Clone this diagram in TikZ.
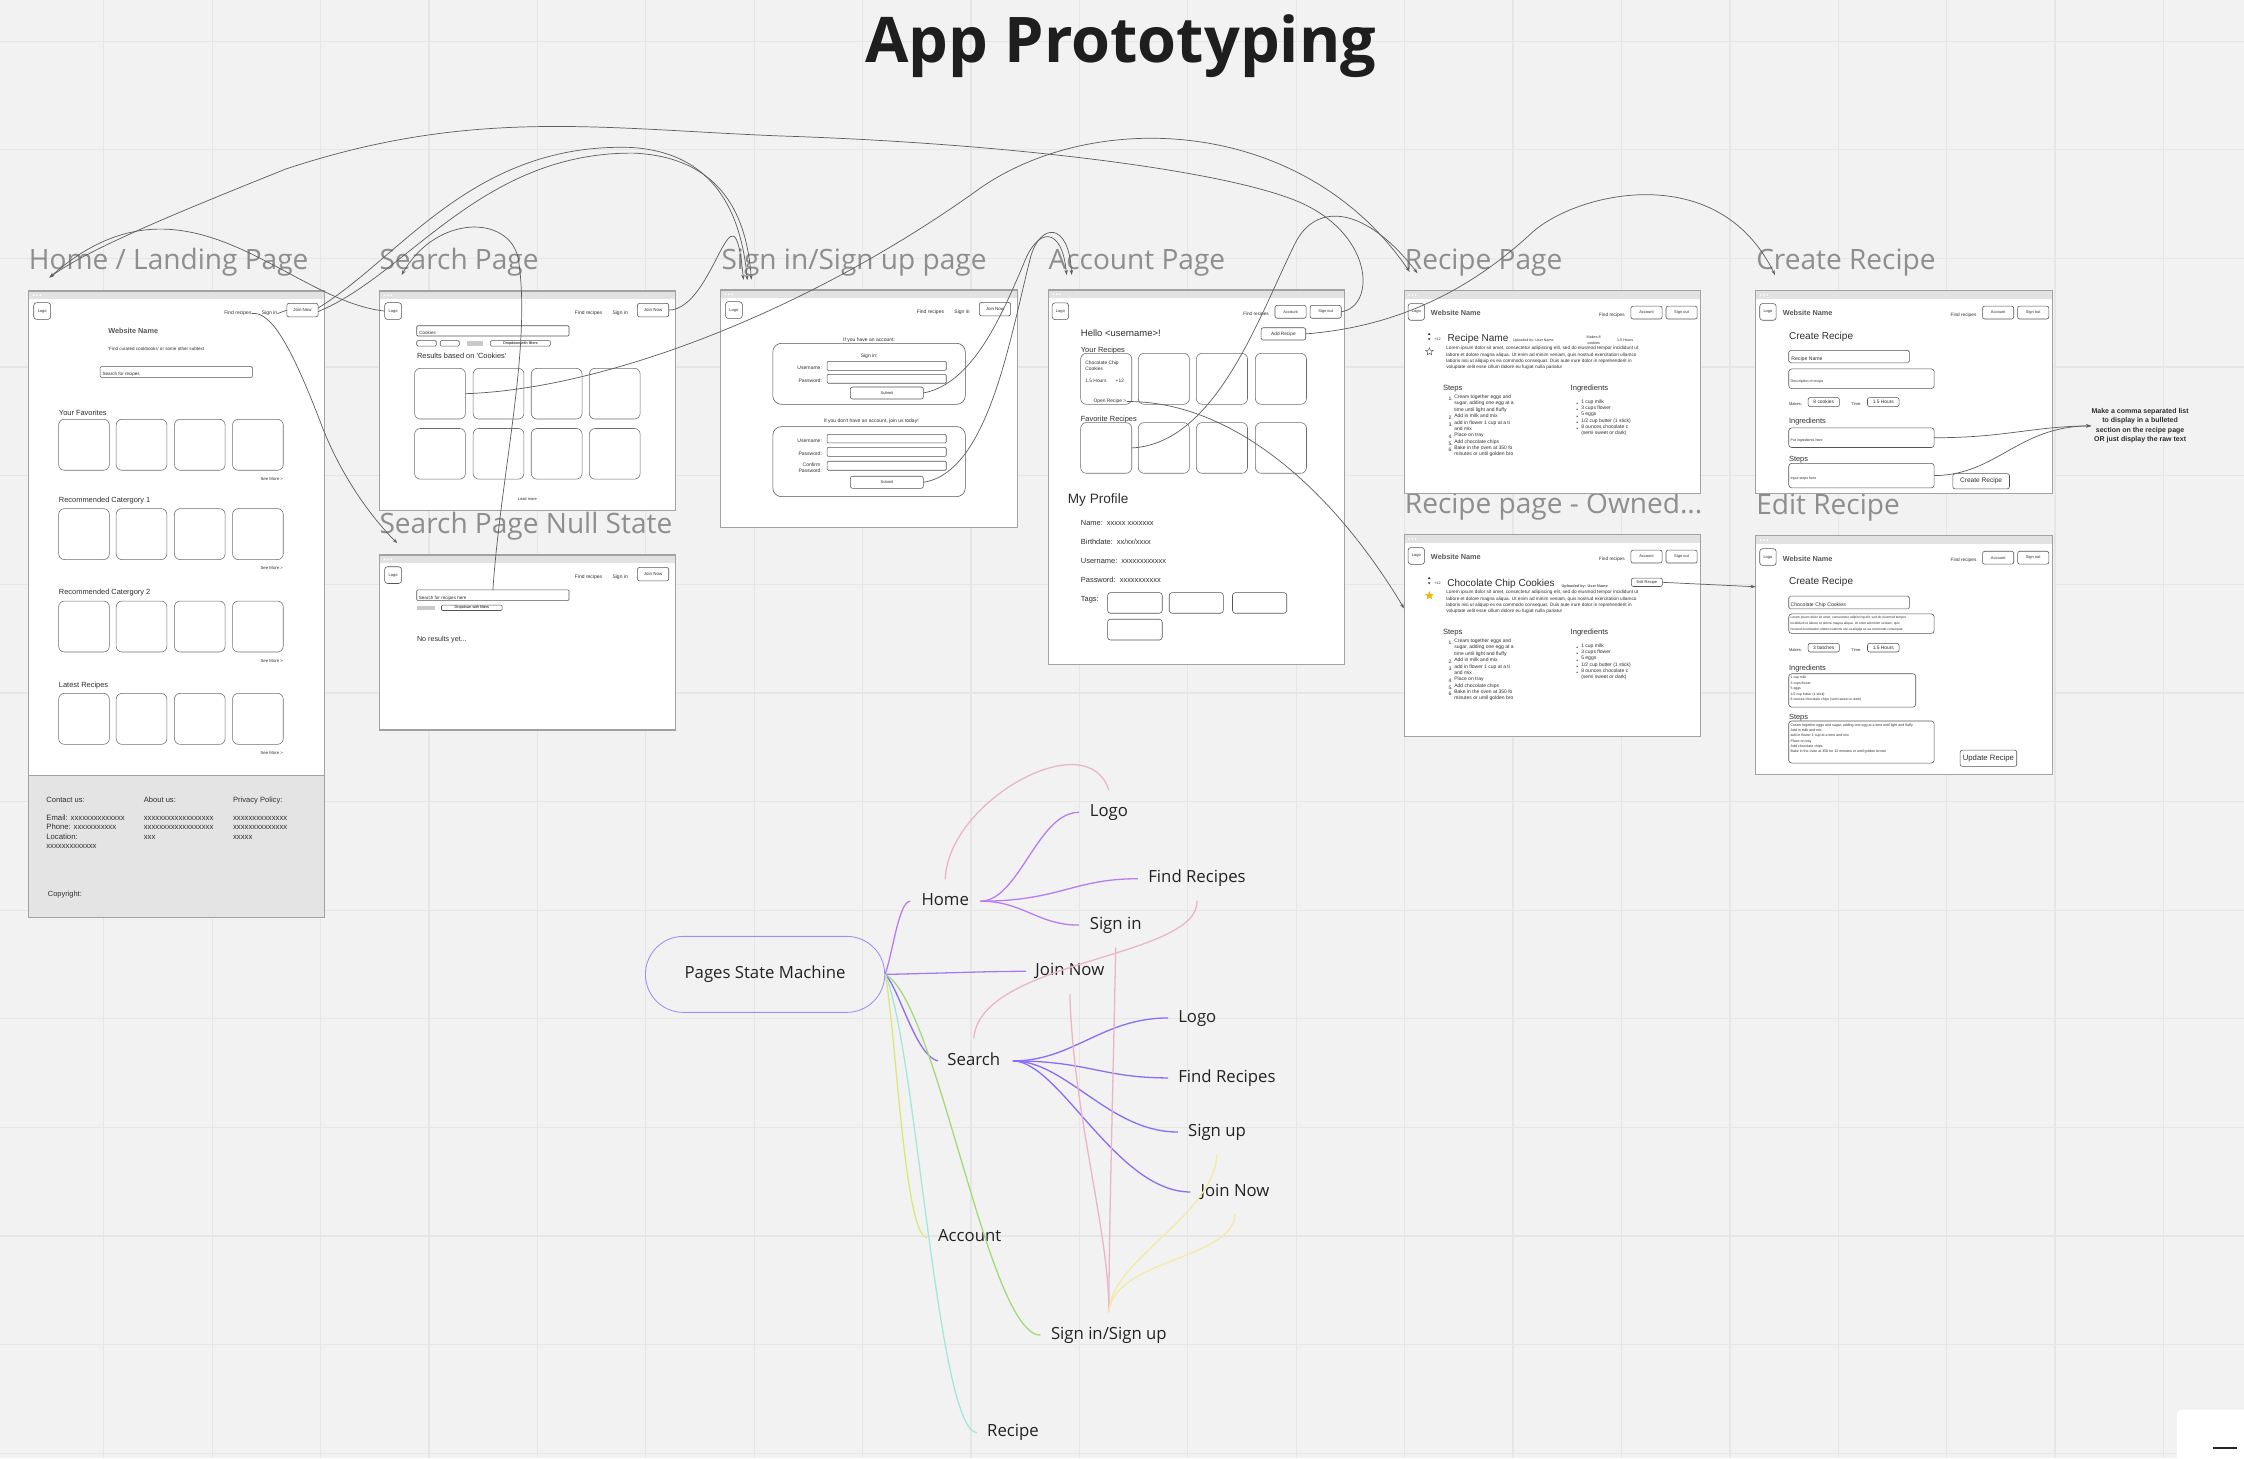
\documentclass[tikz,border=0pt]{standalone}
\usepackage{fontspec}
\setmainfont{Liberation Sans}
\newfontfamily\osans{Open Sans}
\newfontfamily\wf{Liberation Sans}
\usetikzlibrary{shapes.geometric,arrows.meta,calc}
\definecolor{bgc}{HTML}{F2F2F2}
\definecolor{gridc}{HTML}{E6E6E6}
\definecolor{frameb}{HTML}{A2A2A2}
\definecolor{barc}{HTML}{E2E2E2}
\definecolor{lblc}{HTML}{8E8E8E}
\definecolor{wtext}{HTML}{2E2E2E}
\definecolor{wline}{HTML}{555555}
\definecolor{connc}{HTML}{5E5E5E}
\definecolor{footc}{HTML}{E4E4E4}
\definecolor{mmtext}{HTML}{222222}
\definecolor{mmroot}{HTML}{A58CF2}
\definecolor{mmhome}{HTML}{B97CF0}
\definecolor{mmjoin}{HTML}{A57CF2}
\definecolor{mmsearch}{HTML}{8B6CF3}
\definecolor{mmacc}{HTML}{DCE77A}
\definecolor{mmsign}{HTML}{A3DA78}
\definecolor{mmrec}{HTML}{A3E6DA}
\definecolor{mmpink}{HTML}{E8B6C6}
\definecolor{mmyel}{HTML}{F2EAA6}
\definecolor{starc}{HTML}{F4B400}
\definecolor{fillgray}{HTML}{C9C9C9}
\definecolor{titlec}{HTML}{1E1E1E}
\tikzset{
  wt/.style={font=\wf\fontsize{#1}{#1}\selectfont, inner sep=0pt, text=wtext, anchor=mid west},
  wtc/.style={wt=#1, anchor=mid},
  wtr/.style={wt=#1, anchor=mid east},
  wtb/.style={font=\wf\bfseries\fontsize{#1}{#1}\selectfont, inner sep=0pt, text=wtext!80, anchor=mid west},
  wml/.style 2 args={font=\wf\fontsize{#1}{#2}\selectfont, inner sep=0pt, text=wtext, anchor=north west, align=left},
  cardbox/.style={draw=wline!85, fill=white, line width=0.4pt, rounded corners=4pt},
  btnbox/.style={draw=wline, fill=white, line width=0.4pt, rounded corners=1.5pt, font=\wf\fontsize{2.8}{2.8}\selectfont, text=wtext},
  inpbox/.style={draw=wline, fill=white, line width=0.4pt, rounded corners=0.8pt},
  areabox/.style={draw=wline, fill=white, line width=0.4pt, rounded corners=2pt},
  cn/.style={draw=connc, line width=0.5pt},
  ar/.style={-{Stealth[length=3.6pt,width=2.4pt]}},
  pagelbl/.style={font=\osans\fontsize{19.6}{22}\selectfont, text=lblc, inner sep=0pt, anchor=base west},
  mm/.style={font=\osans\fontsize{11.7}{14}\selectfont, text=mmtext, inner sep=0pt, text height=8.4pt, text depth=2.6pt, anchor=west},
  mmedge/.style={line width=0.9pt},
}
% box node from corners: name, style, x1, y1, x2, y2, text
\newcommand\wfbox[7]{%
  \pgfmathsetmacro\wfbw{(#5)-(#3)}\pgfmathsetmacro\wfbh{(#6)-(#4)}%
  \node[#2, anchor=north west, minimum width=\wfbw pt, minimum height=\wfbh pt, inner sep=0pt, outer sep=0pt] (#1) at ({#3},{#4}) {#7};}
% browser frame: name, x1, y1, x2, y2
\newcommand\wfframe[5]{%
  \wfbox{#1}{draw=frameb, fill=white, line width=0.8pt}{#2}{#3}{#4}{#5}{}
  \fill[barc] ({#2+0.4},{#3+0.4}) rectangle ({#4-0.4},{#3+5.6});
  \foreach \dd in {0,1,2} \fill[white] ({#2+3.5+2.3*\dd},{#3+3}) circle (0.65pt);
}
\newcommand\navA[4]{% prefix, L, T, R
  \wfbox{#1-logo}{btnbox, rounded corners=2pt}{#2+3.6}{#3+8.2}{#2+15.4}{#3+19.9}{Logo}
  \node[wt=3.5] (#1-find) at ({#4-70.5},{#3+14.1}) {Find recipes};
  \node[wt=3.5] (#1-sign) at ({#4-44.2},{#3+14.1}) {Sign in};
  \wfbox{#1-join}{btnbox, font=\wf\fontsize{3.1}{3.1}\selectfont}{#4-26.6}{#3+8.7}{#4-4.7}{#3+18.1}{Join Now}
}
\newcommand\navB[4]{% prefix, L, T, R
  \wfbox{#1-logo}{btnbox, rounded corners=2pt}{#2+2.8}{#3+9}{#2+14.3}{#3+20.7}{Logo}
  \node[wt=3.3] (#1-find) at ({#4-71.3},{#3+15.2}) {Find recipes};
  \wfbox{#1-account}{btnbox}{#4-48.8}{#3+10.8}{#4-27}{#3+19.8}{Account}
  \wfbox{#1-signout}{btnbox}{#4-24.3}{#3+10.8}{#4-2.5}{#3+19.8}{Sign out}
}
\newcommand\recipeBody[2]{% prefix, dy
  \node[wml={3.3}{4.35}] (#1-lorem) at (1010.4,{241.9+#2}) {Lorem ipsum dolor sit amet, consectetur adipiscing elit, sed do eiusmod tempor incididunt ut\\labore et dolore magna aliqua. Ut enim ad minim veniam, quis nostrud exercitation ullamco\\laboris nisi ut aliquip ex ea commodo consequat. Duis aute irure dolor in reprehenderit in\\voluptate velit esse cillum dolore eu fugiat nulla pariatur};
  \node[wt=5.3] (#1-steps) at (1008.1,{269.9+#2}) {Steps};
  \node[wt=5.3] (#1-ingr) at (1097.3,{269.9+#2}) {Ingredients};
  \foreach \n/\k in {1/0,2/3,3/4,4/6,5/7,6/8} \node[wt=3.5] (#1-num\n) at (1012,{277.4+#2+4.45*\k}) {\n.};
  \node[wml={3.5}{4.45}] (#1-stl) at (1016,{275.8+#2}) {Cream together eggs and\\sugar, adding one egg at a\\time until light and fluffy\\Add in milk and mix\\add in flower 1 cup at a ti\\and mix\\Place on tray\\Add chocolate chips\\Bake in the oven at 350 fo\\minutes or until golden bro};
  \foreach \k in {0,...,4} \node[wt=3.5] (#1-bul\k) at (1101.3,{280.7+#2+4.37*\k}) {•};
  \node[wml={3.5}{4.37}] (#1-ingl) at (1104.7,{279.1+#2}) {1 cup milk\\3 cups flower\\5 eggs\\1/2 cup butter (1 stick)\\8 ounces chocolate c\\(semi sweet or dark)};
  \fill[wtext] (998.6,{232.6+#2}) -- ++(-0.9,1.4) -- ++(1.8,0) -- cycle;
  \fill[wtext] (998.6,{237.8+#2}) -- ++(-0.9,-1.4) -- ++(1.8,0) -- cycle;
  \node[wt=2.6] (#1-votes) at (1002,{235.2+#2}) {+12};
}
\begin{document}
\begin{tikzpicture}[x=1pt,y=-1pt]
\fill[bgc] (0,0) rectangle (1568,1019);
\useasboundingbox (0,0) rectangle (1568,1019);
\foreach \k in {0,...,19} \draw[gridc, line width=0.9pt] ({72.5+75.75*\k},0) -- ({72.5+75.75*\k},1019);
\foreach \k in {0,...,13} \draw[gridc, line width=0.9pt] (0,{28.8+75.9*\k}) -- (1568,{28.8+75.9*\k});

% title
\node[font=\osans\bfseries\fontsize{44}{48}\selectfont, text=titlec, anchor=base, inner sep=0pt] (title) at (783,44) {App Prototyping};

% page labels
\node[pagelbl] (lbl-home) at (20,188.6) {Home / Landing Page};
\node[pagelbl] (lbl-search) at (265,188.6) {Search Page};
\node[pagelbl] (lbl-signin) at (504,188.6) {Sign in/Sign up page};
\node[pagelbl] (lbl-acc) at (732.5,188.6) {Account Page};
\node[pagelbl] (lbl-recipe) at (981.5,188.6) {Recipe Page};
\node[pagelbl] (lbl-create) at (1227,188.6) {Create Recipe};
\node[pagelbl] (lbl-null) at (265,373.1) {Search Page Null State};
\node[pagelbl] (lbl-owned) at (981.5,359) {Recipe page - Owned...};
\node[pagelbl] (lbl-edit) at (1227,359.5) {Edit Recipe};

% ---------------- Home page
\wfframe{home}{20}{203.3}{227}{641}
\navA{h}{20}{203.3}{227}
\node[wtb=5.1] (h-wn) at (75.5,230.6) {Website Name};
\node[wt=3.2] (h-sub) at (75.5,242) {'Find curated cookbooks' or some other subtext};
\wfbox{h-search}{inpbox}{70}{256.2}{176.4}{263.7}{}
\node[wt=3.2] (h-searcht) at (71.5,260) {Search for recipes};
\foreach \r/\ty/\cy/\sy/\nm in {1/287.4/293/332.8/Your Favorites, 2/348.2/355.4/395.5/Recommended Catergory 1, 3/413/420/460.5/Recommended Catergory 2, 4/477.5/484.5/524.8/Latest Recipes}{
  \node[wt=5.2] (h-sec\r) at (41,\ty) {\nm};
  \foreach \c/\cx in {1/41,2/81.2,3/121.9,4/162.5} \wfbox{h-c\r\c}{cardbox}{\cx}{\cy}{\cx+35.4}{\cy+35.6}{};
  \node[wtr=3] (h-more\r) at (197.9,\sy) {See More >};
}
\wfbox{home-foot}{draw=frameb, fill=footc, line width=0.8pt}{20}{542}{227}{641}{}
\node[wt=5.3] (f-c) at (32.2,558.3) {Contact us:};
\node[wt=5.3] (f-a) at (100.3,558.3) {About us:};
\node[wt=5.3] (f-p) at (162.7,558.3) {Privacy Policy:};
\node[wml={5.4}{6.6}] (f-c2) at (32.2,569) {Email: xxxxxxxxxxxxxx\\Phone: xxxxxxxxxxx\\Location:\\xxxxxxxxxxxxx};
\node[wml={5.4}{6.6}] (f-a2) at (100.3,570) {xxxxxxxxxxxxxxxxxx\\xxxxxxxxxxxxxxxxxx\\xxx};
\node[wml={5.4}{6.6}] (f-p2) at (162.7,570) {xxxxxxxxxxxxxx\\xxxxxxxxxxxxxx\\xxxxx};
\node[wt=5.2] (f-copy) at (33.3,623.6) {Copyright:};

% ---------------- Search page
\wfframe{sp}{265.2}{203.3}{472}{357}
\navA{s}{265.2}{203.3}{472}
\wfbox{s-input}{inpbox}{291.2}{227.6}{397.6}{234.8}{}
\node[wt=3.2] (s-inputt) at (292.8,231.2) {Cookies};
\wfbox{s-f1}{inpbox}{291.2}{238}{304.9}{241.8}{}
\wfbox{s-f2}{inpbox}{307.6}{238}{321}{241.8}{}
\fill[fillgray] (326,238.3) rectangle (337.6,241.5);
\wfbox{s-f3}{inpbox, font=\wf\fontsize{2.6}{2.6}\selectfont}{342.7}{238}{384.6}{241.8}{Dropdown with filters}
\node[wt=5.2] (s-res) at (291.2,247.6) {Results based on 'Cookies'};
\foreach \r/\cy in {1/257.4,2/299.4}
  \foreach \c/\cx in {1/289.7,2/330.6,3/371.2,4/411.8} \wfbox{s-c\r\c}{cardbox}{\cx}{\cy}{\cx+35.5}{\cy+35.4}{};
\node[wtc=2.8] (s-load) at (368.5,347.3) {Load more};

% ---------------- Search null state
\wfframe{sn}{265.2}{387.8}{472}{510.1}
\navA{n}{265.2}{387.8}{472}
\wfbox{n-input}{inpbox}{291.2}{412.2}{397.6}{419.7}{}
\node[wt=3.2] (n-inputt) at (292.5,416) {Search for recipes here};
\fill[fillgray] (291.2,423.2) rectangle (304.3,426.2);
\wfbox{n-f3}{inpbox, font=\wf\fontsize{2.6}{2.6}\selectfont}{308.5}{422.8}{350.9}{426.6}{Dropdown with filters}
\node[wt=5] (n-nores) at (291.2,445.3) {No results yet...};

% ---------------- Sign in page
\wfframe{si}{503.3}{202.6}{710.9}{368.5}
\navA{g}{503.3}{202.6}{710.9}
\node[wtc=3.5] (g-if1) at (607.3,235.7) {If you have an account:};
\wfbox{g-box1}{draw=wline, line width=0.4pt, rounded corners=6pt}{540}{239.9}{674.5}{282.5}{}
\node[wtc=3.5] (g-signin) at (607.3,246.9) {Sign in:};
\node[wtr=3.5] (g-ul1) at (574.5,255.7) {Username:};
\wfbox{g-u1}{inpbox}{577.9}{252.5}{661.2}{258.8}{}
\node[wtr=3.5] (g-pl1) at (574.5,264.8) {Password:};
\wfbox{g-p1}{inpbox}{577.9}{261.6}{661.2}{267.8}{}
\wfbox{g-sub1}{btnbox}{594.2}{270.4}{645.2}{278.8}{Submit}
\node[wtc=3.5] (g-if2) at (608.8,292.8) {If you don't have an account, join us today!};
\wfbox{g-box2}{draw=wline, line width=0.4pt, rounded corners=6pt}{540}{298.1}{674.5}{347}{}
\node[wtr=3.5] (g-ul2) at (574.5,306.7) {Username:};
\wfbox{g-u2}{inpbox}{577.9}{303.5}{661.2}{309.5}{}
\node[wtr=3.5] (g-pl2) at (574.5,315.8) {Password:};
\wfbox{g-p2}{inpbox}{577.9}{312.6}{661.2}{318.9}{}
\node[wtc=3.5] (g-cl2a) at (567,323.3) {Confirm};
\node[wtr=3.5] (g-cl2b) at (574.5,327.5) {Password:};
\wfbox{g-c2}{inpbox}{577.9}{322.3}{661.2}{328.6}{}
\wfbox{g-sub2}{btnbox}{594.2}{332.8}{645.2}{341.2}{Submit}

% ---------------- Account page
\wfframe{ac}{732.4}{202.6}{939.7}{464.6}
\navB{a}{732.4}{202.6}{939.7}
\node[wt=6.6] (a-hello) at (755.1,232.4) {Hello <username>!};
\wfbox{a-add}{btnbox, font=\wf\fontsize{3.3}{3.3}\selectfont}{881.2}{229}{912.4}{237.6}{Add Recipe}
\node[wt=5.2] (a-yr) at (755.1,243.6) {Your Recipes};
\foreach \c/\cx in {1/755.1,2/795.4,3/836,4/877.2} \wfbox{a-r\c}{cardbox}{\cx}{246.9}{\cx+35.7}{282.5}{};
\node[wt=3.4] (a-cc1) at (758.2,252.2) {Chocolate Chip};
\node[wt=3.4] (a-cc2) at (758.2,256.4) {Cookies};
\node[wt=3.4] (a-cc3) at (758.2,264.8) {1.5 Hours};
\node[wt=3.4] (a-cc4) at (779.4,264.8) {+12};
\node[wt=3.4] (a-open) at (764,278.8) {Open Recipe >};
\node[wt=5.2] (a-fr) at (755.1,292.1) {Favorite Recipes};
\foreach \c/\cx in {1/755.1,2/795.4,3/836,4/877.2} \wfbox{a-f\c}{cardbox}{\cx}{295.3}{\cx+35.7}{330.7}{};
\node[wt=9.5] (a-prof) at (746,348.9) {My Profile};
\node[wt=5.2] (a-name) at (755.1,364.7) {Name:\ \ xxxxx xxxxxxx};
\node[wt=5.2] (a-birth) at (755.1,378) {Birthdate:\ \ xx/xx/xxxx};
\node[wt=5.2] (a-user) at (755.1,390.8) {Username:\ \ xxxxxxxxxxxx};
\node[wt=5.2] (a-pass) at (755.1,404.1) {Password:\ \ xxxxxxxxxxx};
\node[wt=5.2] (a-tags) at (755.1,417.6) {Tags:};
\wfbox{a-t1}{areabox}{773.9}{414.1}{812.1}{428.5}{}
\wfbox{a-t2}{areabox}{817}{414.1}{854.8}{428.5}{}
\wfbox{a-t3}{areabox}{861.2}{414.1}{899.1}{428.5}{}
\wfbox{a-t4}{areabox}{773.9}{432.7}{812.1}{447.2}{}

% ---------------- Recipe page
\wfframe{rp}{981.1}{203.1}{1188.4}{344.7}
\navB{r}{981.1}{203.1}{1188.4}
\node[wtb=5.1] (r-wn) at (999.7,217.8) {Website Name};
\recipeBody{r}{0}
\node[wt=7] (r-title) at (1011.4,235.7) {Recipe Name};
\node[wt=2.5] (r-up) at (1057,236.3) {Uploaded by: User Name};
\node[wtc=2.6] (r-mk1) at (1113.6,234) {Makes 8};
\node[wtc=2.6] (r-mk2) at (1113.6,238) {cookies};
\node[wt=2.6] (r-time) at (1129.7,236) {1.5 Hours};
\node[star, star points=5, star point ratio=2.3, draw=wline, line width=0.3pt, minimum size=5.5pt, inner sep=0pt] (r-star) at (998.8,245.7) {};

% ---------------- Recipe page owned
\wfframe{ro}{981.1}{373.6}{1188.4}{514.7}
\navB{o}{981.1}{373.6}{1188.4}
\node[wtb=5.1] (o-wn) at (999.7,388.2) {Website Name};
\recipeBody{o}{170.5}
\node[wt=7] (o-title) at (1011.1,406.9) {Chocolate Chip Cookies};
\node[wtb=2.7] (o-up) at (1091,407.6) {Uploaded by: User Name};
\wfbox{o-edit}{btnbox}{1139.9}{404}{1161.6}{409.8}{Edit Recipe}
\node[star, star points=5, star point ratio=2.3, fill=starc, draw=starc, line width=0.3pt, minimum size=5.5pt, inner sep=0pt] (o-star) at (998.8,416.2) {};

% ---------------- Create recipe
\wfframe{cr}{1226.8}{203.1}{1434.1}{345}
\navB{c}{1226.8}{203.1}{1434.1}
\node[wtb=5.1] (c-wn) at (1245.5,218) {Website Name};
\node[wt=7] (c-title) at (1249.9,234.4) {Create Recipe};
\wfbox{c-name}{inpbox, rounded corners=1.2pt}{1249.9}{244.8}{1334.2}{253.5}{}
\node[wt=3.6] (c-namet) at (1251.5,249.2) {Recipe Name};
\wfbox{c-desc}{areabox}{1249.9}{257.8}{1351.5}{271.5}{}
\node[wt=2.5] (c-desct) at (1251,264.6) {Description of recipe};
\node[wt=2.8] (c-mk) at (1249.9,280.9) {Makes:};
\wfbox{c-makes}{btnbox, font=\wf\fontsize{3.4}{3.4}\selectfont}{1263.4}{277.8}{1285.3}{284.1}{8 cookies}
\node[wt=2.8] (c-tm) at (1293.5,280.9) {Time:};
\wfbox{c-time}{btnbox, font=\wf\fontsize{3.4}{3.4}\selectfont}{1304.9}{277.8}{1327}{284.1}{1.5 Hours}
\node[wt=5.2] (c-ing) at (1249.9,293.4) {Ingredients};
\wfbox{c-inga}{areabox}{1249.9}{299}{1351.5}{312.7}{}
\node[wt=2.5] (c-ingt) at (1251,305.8) {Put ingredients here};
\node[wt=5.2] (c-steps) at (1249.9,319.5) {Steps};
\wfbox{c-stepa}{areabox}{1249.9}{323.8}{1351.5}{340.9}{}
\node[wt=2.5] (c-stept) at (1251,332.3) {Input steps here};
\wfbox{c-btn}{btnbox, font=\wf\fontsize{4.6}{4.6}\selectfont}{1364.5}{331}{1404.1}{341.6}{Create Recipe}
\node[font=\wf\bfseries\fontsize{4.9}{6.65}\selectfont, align=center, text=wtext, inner sep=0pt] (note) at (1495.4,297.6) {Make a comma separated list\\to display in a bulleted\\section on the recipe page\\OR just display the raw text};

% ---------------- Edit recipe
\wfframe{er}{1226.8}{374.4}{1434.1}{541.1}
\navB{e}{1226.8}{374.4}{1434.1}
\node[wtb=5.1] (e-wn) at (1245.5,389.6) {Website Name};
\node[wt=7] (e-title) at (1249.9,405.7) {Create Recipe};
\wfbox{e-name}{inpbox, rounded corners=1.2pt}{1249.9}{416.5}{1334.2}{425.5}{}
\node[wt=3.6] (e-namet) at (1251,421) {Chocolate Chip Cookies};
\wfbox{e-desc}{areabox}{1249.9}{429}{1351.5}{442.6}{}
\node[wml={2.3}{4}] (e-desct) at (1251,430.5) {Lorem ipsum dolor sit amet, consectetur adipiscing elit, sed do eiusmod tempor\\incididunt ut labore et dolore magna aliqua. Ut enim ad minim veniam, quis\\nostrud exercitation ullamco laboris nisi ut aliquip ex ea commodo consequat};
\node[wt=2.8] (e-mk) at (1249.9,452.6) {Makes:};
\wfbox{e-makes}{btnbox, font=\wf\fontsize{3.4}{3.4}\selectfont}{1263.4}{449.6}{1285.3}{455.6}{3 batches}
\node[wt=2.8] (e-tm) at (1293.5,452.6) {Time:};
\wfbox{e-time}{btnbox, font=\wf\fontsize{3.4}{3.4}\selectfont}{1304.9}{449.6}{1327}{455.6}{1.5 Hours}
\node[wt=5.2] (e-ing) at (1249.9,465.7) {Ingredients};
\wfbox{e-inga}{areabox}{1249.9}{470.8}{1338.6}{494.1}{}
\node[wml={2.4}{3.8}] (e-ingt) at (1251,472.4) {1 cup milk\\3 cups flower\\5 eggs\\1/2 cup butter (1 stick)\\8 ounces chocolate chips (semi sweet or dark)};
\node[wt=5.2] (e-steps) at (1249.9,500.1) {Steps};
\wfbox{e-stepa}{areabox}{1249.9}{503.8}{1351.5}{533.2}{}
\node[wml={2.5}{3.7}] (e-stept) at (1251,505.4) {Cream together eggs and sugar, adding one egg at a time until light and fluffy\\Add in milk and mix\\add in flower 1 cup at a time and mix\\Place on tray\\Add chocolate chips\\Bake in the oven at 350 for 12 minutes or until golden brown};
\wfbox{e-btn}{btnbox, font=\wf\fontsize{5.4}{5.4}\selectfont}{1369.6}{524.2}{1409.2}{535.5}{Update Recipe}

% ---------------- connectors
\coordinate (tip-home) at (34.5,194);
\coordinate (tip-search) at (280.6,192.2);
\coordinate (tip-null) at (277.6,379.6);
\coordinate (tip-signin1) at (519.5,195.5);
\coordinate (tip-signin2) at (522.2,195.8);
\coordinate (tip-signin3) at (525,195.5);
\coordinate (tip-acc1) at (745.3,192.2);
\coordinate (tip-acc2) at (748.8,192.2);
\coordinate (tip-rec1) at (985,190);
\coordinate (tip-rec2) at (990.5,191);
\coordinate (tip-create) at (1240.3,192.2);

\draw[cn,ar] (s-logo.west) .. controls (200,210) and (130,110) .. (tip-home);
\draw[cn,ar] (a-signout.east) .. controls (962,214) and (960,162) .. (905,140) .. controls (850,118) and (700,100) .. (545,95) .. controls (420,90) and (330,75) .. (200,118) .. controls (120,150) and (60,175) .. (tip-home);
\draw[cn,ar] (h-find.east) .. controls (190,217) and (205,245) .. (226,300.5) .. controls (240,335) and (260,362) .. (tip-null);
\draw[cn] (h-sign.east) -- (h-join.west);
\draw[cn,ar] ([yshift=1.5pt]h-join.east) .. controls (280,180) and (330,100) .. (440,103) .. controls (500,106) and (518,150) .. (tip-signin2);
\draw[cn,ar] ([yshift=-1pt]h-join.east) .. controls (285,192) and (336,106) .. (443,107) .. controls (505,110) and (522,152) .. (tip-signin3);
\draw[cn,ar] (s-join.east) .. controls (500,216) and (512,118) .. (tip-signin1);
\draw[cn,ar] (s-c11.east) .. controls (420,272) and (560,220) .. (680,135) .. controls (760,75) and (910,80) .. (tip-rec1);
\draw[cn,ar] (a-f1.east) .. controls (850,310) and (880,220) .. (905,170) .. controls (920,140) and (955,145) .. (tip-rec2);
\draw[cn,ar] (a-add.east) .. controls (980,228) and (1030,200) .. (1070,163) .. controls (1100,135) and (1200,110) .. (tip-create);
\draw[cn,ar] (a-open.east) .. controls (860,280) and (930,340) .. ([yshift=19pt]ro.west);
\draw[cn,ar] (g-sub1.east) .. controls (680,268) and (700,220) .. (715,185) .. controls (725,158) and (742,158) .. (tip-acc1);
\draw[cn,ar] (g-sub2.east) .. controls (690,330) and (705,240) .. (720,180) .. controls (727,155) and (747,155) .. (tip-acc2);
\draw[cn,ar] (n-input.north) .. controls (350,330) and (372,240) .. (362,180) .. controls (355,150) and (305,150) .. (tip-search);
\draw[cn,ar] (o-edit.east) -- ([yshift=47.75pt]er.west);
\draw[cn,ar] (c-inga.east) .. controls (1400,306) and (1420,298) .. (note.west);
\draw[cn,ar] (c-stepa.east) .. controls (1395,332) and (1410,298) .. (note.west);

% ---------------- mind map
\node[draw=mmroot, line width=0.6pt, rounded corners=26.5pt, minimum width=167.2pt, minimum height=53.1pt, inner sep=0pt, font=\osans\fontsize{11.7}{14}\selectfont, text=mmtext] (mm-root) at (534.6,680.85) {Pages State Machine};
\node[mm] (mm-home) at (643.7,629.7) {Home};
\node[mm] (mm-join) at (723.3,678.7) {Join Now};
\node[mm] (mm-search) at (661.8,741.3) {Search};
\node[mm] (mm-acc) at (655.3,864.8) {Account};
\node[mm] (mm-sign) at (734.2,933) {Sign in/Sign up};
\node[mm] (mm-rec) at (689.6,1001.1) {Recipe};
\node[mm] (mm-hlogo) at (761.3,567.6) {Logo};
\node[mm] (mm-hfind) at (802.2,614) {Find Recipes};
\node[mm] (mm-hsign) at (761.3,646.4) {Sign in};
\node[mm] (mm-slogo) at (823.1,711.3) {Logo};
\node[mm] (mm-sfind) at (823.1,753.2) {Find Recipes};
\node[mm] (mm-ssignup) at (830,791) {Sign up};
\node[mm] (mm-sjoin) at (838.7,832.9) {Join Now};

\draw[mmedge, mmhome] (mm-root.east) .. controls (624,665) and (628,630) .. ([xshift=-7.7pt]mm-home.west);
\draw[mmedge, mmjoin] (mm-root.east) .. controls (660,680) and (690,678.7) .. ([xshift=-6.3pt]mm-join.west);
\draw[mmedge, mmsearch] (mm-root.east) .. controls (628,690) and (640,738) .. ([xshift=-6.5pt]mm-search.west);
\draw[mmedge, mmacc] (mm-root.east) .. controls (626,720) and (632,864.8) .. ([xshift=-7.5pt]mm-acc.west);
\draw[mmedge, mmsign] (mm-root.east) .. controls (655,700) and (690,932) .. ([xshift=-7.2pt]mm-sign.west);
\draw[mmedge, mmrec] (mm-root.east) .. controls (640,730) and (655,1000) .. ([xshift=-6.9pt]mm-rec.west);

\draw[mmedge, mmhome] ([xshift=7.8pt]mm-home.east) .. controls (712,629.7) and (725,567.6) .. ([xshift=-7.4pt]mm-hlogo.west);
\draw[mmedge, mmhome] ([xshift=7.8pt]mm-home.east) .. controls (740,629.7) and (750,614) .. ([xshift=-7.2pt]mm-hfind.west);
\draw[mmedge, mmhome] ([xshift=7.8pt]mm-home.east) .. controls (715,629.7) and (725,646.4) .. ([xshift=-7.4pt]mm-hsign.west);
\draw[mmedge, mmsearch] ([xshift=8.7pt]mm-search.east) .. controls (750,741.3) and (770,711.3) .. ([xshift=-6.9pt]mm-slogo.west);
\draw[mmedge, mmsearch] ([xshift=8.7pt]mm-search.east) .. controls (760,741.3) and (770,753.2) .. ([xshift=-6.9pt]mm-sfind.west);
\draw[mmedge, mmsearch] ([xshift=8.7pt]mm-search.east) .. controls (745,741.3) and (775,791) .. ([xshift=-6.9pt]mm-ssignup.west);
\draw[mmedge, mmsearch] ([xshift=8.7pt]mm-search.east) .. controls (740,741.3) and (780,832.9) .. ([xshift=-6.9pt]mm-sjoin.west);

\draw[mmedge, mmpink] ([yshift=9.5pt]mm-home.north) .. controls (662,560) and (760,505) .. ([yshift=9.8pt]mm-hlogo.north);
\draw[mmedge, mmpink] ([yshift=-9.6pt]mm-hfind.south) .. controls (838,670) and (685,670) .. ([yshift=10pt]mm-search.north);
\draw[mmedge, mmpink] ([yshift=-9.8pt]mm-hsign.south) .. controls (778,750) and (775,850) .. ([yshift=10.5pt]mm-sign.north);
\draw[mmedge, mmpink] ([yshift=-10.4pt]mm-join.south) .. controls (750,780) and (775,860) .. ([yshift=10.5pt]mm-sign.north);
\draw[mmedge, mmyel] ([yshift=-10pt]mm-ssignup.south) .. controls (848,850) and (776,880) .. ([yshift=10.5pt]mm-sign.north);
\draw[mmedge, mmyel] ([yshift=-9.8pt]mm-sjoin.south) .. controls (862,880) and (778,880) .. ([yshift=10.5pt]mm-sign.north);

% corner widget
\fill[white, rounded corners=4pt] (1521,1030) -- (1521,985) -- (1580,985) -- (1580,1030) -- cycle;
\draw[black!85, line width=1.4pt] (1546,1012) -- (1563,1012);
\end{tikzpicture}
\end{document}
